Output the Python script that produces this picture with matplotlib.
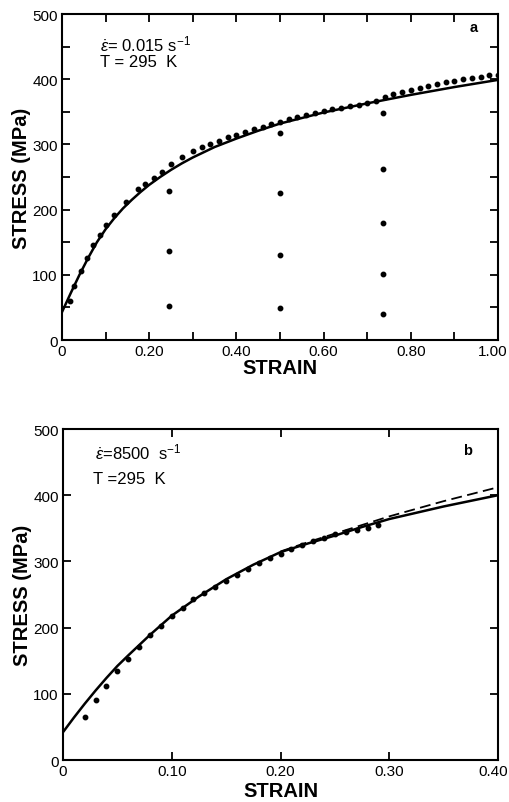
import numpy as np
import matplotlib.pyplot as plt
import matplotlib.transforms as mtransforms
from matplotlib.ticker import MultipleLocator, NullLocator

plt.rcParams['font.family'] = ['Liberation Sans', 'DejaVu Sans']
plt.rcParams['mathtext.fontset'] = 'custom'
plt.rcParams['mathtext.rm'] = 'Liberation Sans'
plt.rcParams['mathtext.it'] = 'Liberation Sans:italic'

# ---- panel a data (strain rate 0.015 /s) ----
a_exp_strain = [0.018, 0.028, 0.044, 0.058, 0.072, 0.087, 0.10, 0.12, 0.147, 0.175,
                0.19, 0.21, 0.229, 0.25, 0.275, 0.30, 0.32, 0.34, 0.36, 0.38,
                0.40, 0.42, 0.44, 0.46, 0.48, 0.50, 0.52, 0.54, 0.56, 0.58,
                0.60, 0.62, 0.64, 0.66, 0.68, 0.70, 0.72, 0.74, 0.76, 0.78,
                0.80, 0.82, 0.84, 0.86, 0.88, 0.90, 0.92, 0.94, 0.96, 0.98, 1.00]
a_exp_stress = [60, 83, 106, 126, 145, 161, 176, 191, 211, 232,
                240, 248, 257, 270, 280, 290, 296, 301, 306, 311,
                315, 319, 323, 327, 331, 335, 339, 342, 345, 348,
                351, 354, 356, 359, 361, 364, 367, 372, 377, 380,
                383, 386, 389, 392, 395, 398, 400, 402, 404, 406, 407]
a_fit_strain = [0.0, 0.02, 0.04, 0.06, 0.08, 0.10, 0.12, 0.14, 0.16, 0.18,
                0.20, 0.225, 0.25, 0.275, 0.30, 0.35, 0.40, 0.45, 0.50, 0.60,
                0.70, 0.80, 0.90, 1.00]
a_fit_stress = [43, 72, 100, 126, 150, 170, 187, 202, 215, 227,
                238, 250, 261, 271, 280, 296, 309, 321, 332, 349,
                363, 376, 388, 399]
a_unload_strain = [0.245, 0.245, 0.245, 0.50, 0.50, 0.50, 0.50,
                   0.736, 0.736, 0.736, 0.736, 0.736]
a_unload_stress = [228, 136, 52, 318, 225, 131, 49,
                   348, 262, 179, 101, 40]

# ---- panel b data (strain rate 8500 /s) ----
b_exp_strain = [0.02, 0.03, 0.04, 0.05, 0.06, 0.07, 0.08, 0.09, 0.10, 0.11,
                0.12, 0.13, 0.14, 0.15, 0.16, 0.17, 0.18, 0.19, 0.20, 0.21,
                0.22, 0.23, 0.24, 0.25, 0.26, 0.27, 0.28, 0.29]
b_exp_stress = [65, 90, 112, 134, 153, 171, 189, 203, 217, 230,
                243, 253, 262, 271, 280, 288, 298, 305, 311, 318,
                325, 331, 336, 341, 345, 347, 351, 355]
b_fit_strain = [0.0, 0.01, 0.02, 0.03, 0.04, 0.05, 0.06, 0.08, 0.10, 0.125,
                0.15, 0.175, 0.20, 0.225, 0.25, 0.275, 0.30, 0.35, 0.40]
b_fit_stress = [42, 64, 85, 105, 124, 142, 158, 189, 218, 247,
                273, 295, 314, 327, 339, 352, 364, 383, 400]
b_dash_strain = [0.20, 0.225, 0.25, 0.275, 0.30, 0.35, 0.40]
b_dash_stress = [315, 329, 342, 355, 368, 391, 412]

fig = plt.figure(figsize=(5.1, 8.03), dpi=100)
ax1 = fig.add_axes([0.1216, 0.5753, 0.855, 0.406])
ax2 = fig.add_axes([0.1235, 0.0523, 0.853, 0.4122])


def style_axes(ax, xmax, yminor):
    ax.set_xlim(0, xmax)
    ax.set_ylim(0, 500)
    ax.yaxis.set_major_locator(MultipleLocator(100))
    if yminor:
        ax.yaxis.set_minor_locator(MultipleLocator(yminor))
    else:
        ax.yaxis.set_minor_locator(NullLocator())
    ax.tick_params(which='both', direction='in', top=True, right=True,
                   width=1.3, length=6, labelsize=11, pad=3)
    for s in ax.spines.values():
        s.set_linewidth(1.5)
    ax.set_ylabel('STRESS (MPa)', fontsize=14.5, fontweight='bold', labelpad=1)


def fmt_x(ax, ticks, minor):
    ax.set_xticks(ticks)
    ax.set_xticklabels(['0'] + ['%.2f' % t for t in ticks[1:]])
    ax.set_xticks(minor, minor=True)
    # pull the last label in a little so it stays on the page
    lab = ax.get_xticklabels()[-1]
    lab.set_transform(lab.get_transform() +
                      mtransforms.ScaledTranslation(-5 / 100, 0, fig.dpi_scale_trans))


# panel a
ax1.plot(a_fit_strain, a_fit_stress, color='black', lw=1.8)
ax1.plot(a_exp_strain, a_exp_stress, 'o', color='black', ms=3.2)
ax1.plot(a_unload_strain, a_unload_stress, 'o', color='black', ms=3.2)
style_axes(ax1, 1.0, 50)
fmt_x(ax1, [0, 0.2, 0.4, 0.6, 0.8, 1.0], [0.1, 0.3, 0.5, 0.7, 0.9])
ax1.set_xlabel('STRAIN', fontsize=14.5, fontweight='bold', labelpad=0)
ax1.text(0.087, 444, r'$\dot{\epsilon}$= 0.015 s$^{-1}$', fontsize=12)
ax1.text(0.087, 421, 'T = 295  K', fontsize=12)
ax1.text(0.943, 480, 'a', fontsize=10.5, fontweight='bold', ha='center', va='center')

# panel b
ax2.plot(b_fit_strain, b_fit_stress, color='black', lw=1.8)
ax2.plot(b_dash_strain, b_dash_stress, color='black', lw=1.3, ls=(0, (6, 3)))
ax2.plot(b_exp_strain, b_exp_stress, 'o', color='black', ms=3.2)
style_axes(ax2, 0.4, None)
fmt_x(ax2, [0, 0.1, 0.2, 0.3, 0.4], [])
ax2.set_xlabel('STRAIN', fontsize=14.5, fontweight='bold', labelpad=2)
ax2.text(0.029, 456, r'$\dot{\epsilon}$=8500  s$^{-1}$', fontsize=12)
ax2.text(0.028, 419, 'T =295  K', fontsize=12)
ax2.text(0.372, 468, 'b', fontsize=10.5, fontweight='bold', ha='center', va='center')

fig.savefig('out.png', dpi=100)
